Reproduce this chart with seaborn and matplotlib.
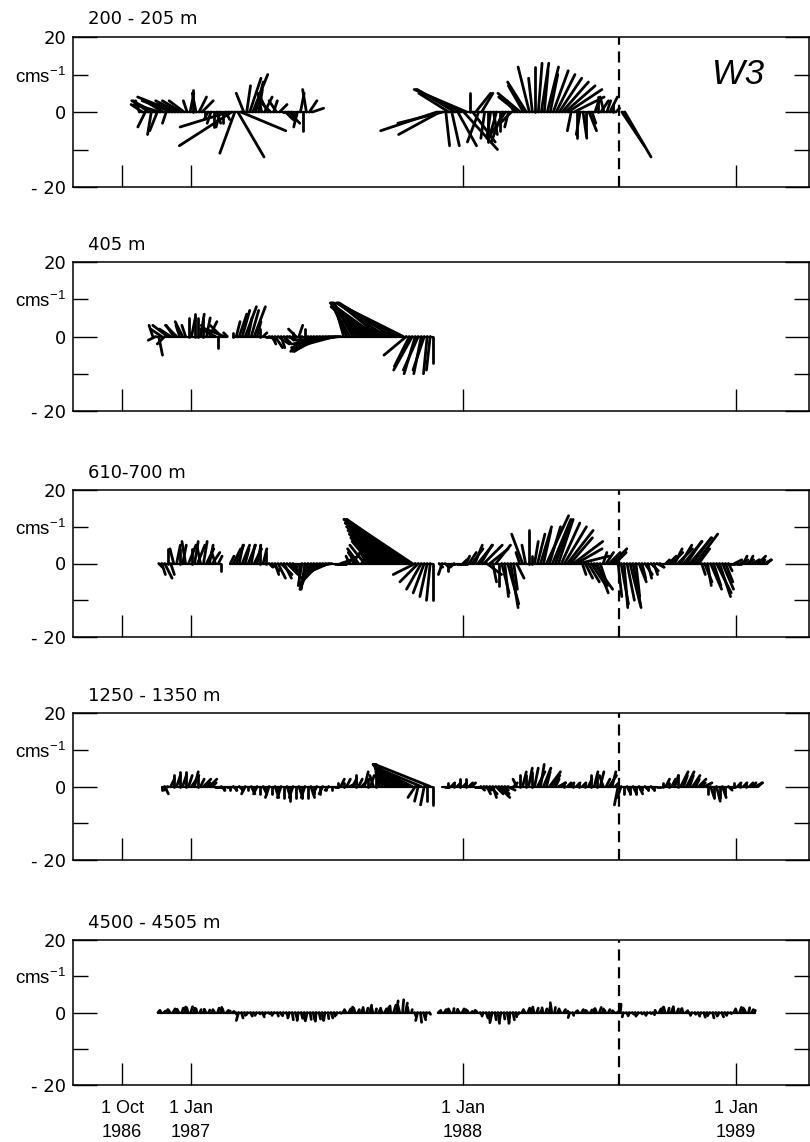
# -*- coding: utf-8 -*-
"""
Current vector (stick) plots, mooring W3, five depths.
"""

import numpy as np
import pandas as pd
import matplotlib
matplotlib.use("Agg")
import matplotlib.pyplot as plt
import matplotlib.dates as mdates
import seaborn as sns

sns.set_theme(style="ticks")
plt.rcParams['font.family'] = ['DejaVu Sans']
plt.rcParams['text.color'] = 'black'
plt.rcParams['xtick.color'] = 'black'
plt.rcParams['ytick.color'] = 'black'
plt.rcParams['mathtext.fontset'] = 'custom'
plt.rcParams['mathtext.rm'] = 'Liberation Sans'
plt.rcParams['mathtext.it'] = 'Liberation Sans:italic'

nan = np.nan

#----------------------------------
# Data: u (east) and v (north) in cm/s, one vector every STEP days
#----------------------------------
STEP = 4

# 200 - 205 m, first record
p1a_start = "1986-10-24"
p1a_u = [-1, -3, -2, -4, -1, -6, -2, -7, -5, -1,
         -3, -8, -10, -6, -5, -4, -1, 1, 0, -1,
         2, 3, 0, -1, -1, 0, 1, -1, 0, 1,
         -13, -14, -4, 7, 12, -2, 1, 3, 4, 2,
         1, -1, 2, -2, -3, 1, -2, 2, 1, 2,
         3, 1, 0, -1, 1, 0, -1, 2, 3]
p1a_v = [3, 2, -4, 3, -6, 3, -5, 2, 3, -3,
         2, 3, 4, 3, 3, 3, 3, 5, 6, 5,
         4, 3, -1, -2, -3, -4, -3, -4, -3, -2,
         -4, -9, -11, -12, -5, 5, 7, 9, 10, 8,
         6, 5, 4, 4, 3, 3, 3, 2, 0, -2,
         -3, -1, -2, -4, 5, -5, 6, 3, 1]

# 200 - 205 m, second record
p1b_start = "1987-11-27"
p1b_u = [-15, -11, -12, 1, -8, 2, -10, 5, -12, 9,
         -14, 0, 6, 4, -3, 3, -1, 0, -1, 1,
         -2, 0, -3, -4, -1, -3, -2, -5, -6, -4,
         -5, -3, -1, 0, 1, 2, 1, 3, 2, 4,
         5, 6, 7, 8, 9, -1, 8, 0, -1, 1,
         0, 2, 1, 1, 0, 2, -1, 1, 2, 0,
         1, nan, 6, 7]
p1b_v = [-5, -6, -3, -9, 5, -9, 6, -9, 6, -10,
         6, 5, -8, 5, -8, 5, -7, -8, -7, -6,
         -7, -5, -8, -6, -4, -3, 3, 4, 5, 7,
         8, 12, 9, 12, 13, 13, 11, 12, 10, 11,
         10, 9, 8, 7, 6, -5, 4, -7, -6, -7,
         -6, -5, -3, 3, 4, 3, 4, 3, 4, 2,
         1, nan, -9, -12]

# 405 m
p2_start = "1986-11-11"
p2_u = [-1, -2, 1, -3, -2, -4, -3, -2, -3, -1,
        -2, -1, 0, 1, 0, 0, 1, 0, 1, 2,
        -3, -4, 0, -3, -5, -1, nan, 0, 1, 2,
        2, 3, 1, 2, 3, 1, 0, 1, 1, 2,
        1, 2, 3, 1, 2, 3, 1, 0, -2, 1,
        -3, 0, -2, -4, -5, -6, -7, -8, -9, -10,
        -10, -11, -12, -12, -2, -4, -5, -5, -6, -7,
        -8, -9, -10, -10, -11, -11, -11, -12, -13, -12,
        -14, -13, -16, -14, -18, -6, -4, -5, -3, -4,
        -2, -3, -1, -1, 0]
p2_v = [3, -1, -5, 2, -2, 3, 2, 3, 3, 3,
        4, 3, 5, 5, 6, 5, 6, 5, 5, 4,
        3, 2, -3, 3, 2, 1, nan, 1, 4, 6,
        7, 8, 5, 7, 8, 4, 2, 1, 0, -1,
        -2, -3, -2, -3, -2, -1, -1, 1, 2, 3,
        -4, 2, -3, -3, -3, -4, -3, -4, -3, -3,
        -2, -3, -2, -1, 7, 9, 9, 9, 9, 9,
        9, 8, 9, 8, 8, 8, 9, 6, 9, 4,
        9, 3, 9, 3, 9, -5, -8, -9, -10, -9,
        -10, -9, -10, -9, -7]

# 610 - 700 m
p3_start = "1986-11-19"
p3_u = [1, 1, 2, 0, 1, -1, 1, 0, 1, -1,
        2, 0, 1, 2, -1, 1, 2, 1, 2, -1,
        1, 0, nan, nan, 1, 2, 2, 1, 2, 1,
        2, 1, 2, 1, 0, 1, 0, 1, 2, 1,
        2, 3, 2, 3, 2, 1, 0, 0, -1, -1,
        -2, -3, -4, -4, -5, -6, -6, -7, -5, 3,
        2, 3, 2, 3, -1, 2, -2, -3, 1, -4,
        -2, -5, -6, -7, -8, -9, -10, -11, -12, -13,
        -14, -15, -16, -17, -17, -18, -6, -5, -4, -3,
        -2, -1, 0, nan, 1, -1, 1, 0, 1, -1,
        1, 2, 1, 1, 2, 3, 2, 4, 3, 5,
        4, 5, 1, 4, 0, 2, 1, 3, 2, 1,
        2, -1, -3, -1, 0, 0, 1, 2, 3, 2,
        6, 3, 5, 4, 4, 5, 6, 7, 6, 8,
        7, 8, 1, 2, 3, 4, 5, 3, 2, 1,
        2, 3, 4, 3, 1, 2, 1, 2, 3, 2,
        1, 2, 1, 2, 1, 2, 1, 2, 1, 0,
        1, 2, 3, 2, 4, 3, 5, 4, 6, 5,
        6, 3, 1, 2, 1, 3, 2, 4, 3, 3,
        2, 1, 1, 2, 1, 2, 1, 2, 1, 2,
        1, 2, 1, 2, 1]
p3_v = [-1, -3, -4, 4, -3, 4, 5, 4, 5, 6,
        5, 4, 6, 5, 5, 6, 4, 5, 3, 3,
        2, -2, nan, nan, 2, 4, 5, 5, 5, 4,
        5, 5, 4, 5, 5, 4, 3, -1, -2, -3,
        -4, -3, -4, -3, -2, -1, -2, -4, -6, -7,
        -7, -7, -6, -5, -5, -4, -3, -3, -1, 0,
        0, 1, 1, 2, 2, 3, 3, 4, 2, 5,
        3, 6, 7, 7, 8, 8, 9, 9, 10, 10,
        11, 11, 12, 12, 12, 12, -3, -5, -7, -8,
        -9, -10, -10, nan, -1, -3, -1, -2, 0, -1,
        0, 0, 1, 2, 3, 4, 5, 5, 5, 5,
        -3, 4, -5, 5, -6, -8, -9, -11, -12, -7,
        -4, 3, 8, 5, 9, 2, 6, 8, 10, 9,
        13, 10, 12, 11, 12, 11, 10, 9, 7, 6,
        4, 2, -3, -4, -5, -6, -7, -8, -6, 3,
        3, 3, 4, 3, -9, -11, -12, -10, -12, -11,
        -9, -5, -4, -3, -4, -2, -3, -1, -1, 0,
        1, 2, 3, 4, 4, 5, 6, 6, 7, 7,
        8, 4, -3, -5, -6, -7, -6, -8, -9, -7,
        -5, -2, 0, 1, 0, 1, 2, 1, 2, 1,
        1, 2, 1, 1, 1]

# 1250 - 1350 m
p4_start = "1986-11-23"
p4_u = [0, 1, -1, 1, 0, 1, 0, 1, 0, 1,
        2, 1, 0, 1, 2, 1, 2, 1, 1, 1,
        1, 0, 1, 0, 1, 0, 1, 0, -1, 0,
        1, 0, -1, 0, 1, 0, -1, 0, 1, 0,
        -1, 0, 1, 0, -1, 0, 1, 0, -1, 0,
        1, 0, -1, 0, -1, 0, -1, 0, 1, 0,
        1, 0, 1, 2, 1, 0, 1, 2, 1, 0,
        1, -1, 0, -1, -2, -3, -4, -5, -5, -6,
        -7, -8, -8, -9, -10, -2, -1, -12, -1, 0,
        -15, 0, nan, nan, 0, 1, 0, 1, 0, 1,
        0, 1, 0, 1, 1, 2, 1, 1, 2, 1,
        2, 1, 2, 3, 2, 1, 2, 0, 1, -1,
        0, 1, 0, 1, 0, 1, 2, 1, 2, 1,
        3, 2, 1, 2, 1, 0, 1, 1, 0, 1,
        0, 1, 0, 1, 0, 1, 0, 1, -1, 1,
        2, 1, 1, -1, -1, 0, 1, 0, 1, 0,
        1, 0, 1, 0, 1, 0, 1, nan, 0, 1,
        0, 1, 1, 0, 2, 1, 2, 1, 2, 1,
        2, 1, 2, 0, 1, 0, 1, 0, 1, 0,
        1, 1, 0, 1, 0, 1, 0, 1, 1, 2,
        1]
p4_v = [-1, -2, -1, 2, 3, 3, 4, 3, 4, 3,
        3, 4, 3, 2, 2, 1, 2, 1, 0, 0,
        -1, -1, 0, -1, -1, -1, -1, -1, -2, -1,
        -2, -1, -2, -2, -2, -2, -3, -2, -3, -2,
        -3, -3, -3, -4, -3, -3, -3, -3, -3, -3,
        -3, -2, -2, -2, -2, -1, -1, -1, 0, 1,
        2, 1, 2, 1, 2, 3, 2, 2, 4, 2,
        3, 3, 3, 4, 5, 6, 6, 6, 6, 6,
        6, 6, 5, 5, 5, -3, -4, 5, -5, -4,
        6, -5, nan, nan, 0, 0, 1, 1, 1, 1,
        2, 1, 2, 1, 1, 0, 0, -1, -1, -2,
        -2, -3, -2, -3, -2, -1, -1, 0, 1, 2,
        3, 4, 3, 5, 4, 5, 4, 6, 5, 4,
        4, 3, 2, 1, 1, 1, 1, 1, 1, 1,
        1, 1, 1, 2, 3, 4, 3, 4, 3, 2,
        3, 4, 1, -5, -3, -2, -2, -2, -2, -2,
        -2, -1, -1, -1, -1, -1, 0, nan, 1, 2,
        1, 2, 3, 3, 4, 3, 4, 3, 3, 2,
        2, 1, 1, -2, -3, -3, -4, -3, -3, -2,
        -1, 0, 1, 1, 1, 1, 1, 1, 1, 1,
        1]

# 4500 - 4505 m
p5_start = "1986-11-18"
p5_u = [0.5, -0.3, 0.4, 0.2, -0.4, 0.6, 0.3, -0.5, 0.4, 0.2,
        -0.3, 0.5, 0.3, -0.2, 0.4, 0.6, -0.4, 0.3, 0.2, -0.5,
        0.4, 0.3, -0.3, 0.5, 0.2, 0.4,
        0.3, -0.6, 0.4, 0.2, -0.3, 0.5, 0.3, -0.4, 0.2, 0.5,
        -0.3, 0.4, 0.2, -0.5, 0.3, 0.4, -0.2, 0.5,
        -0.4, 0.3, 0.6, -0.3, 0.4, 0.2, -0.5, 0.3, 0.5, -0.2,
        0.4, 0.3, -0.4, 0.2, 0.5, 0.3, -0.2, 0.4,
        0.3, -0.4, 0.5, 0.2, -0.3, 0.4, 0.6, -0.2, 0.3, 0.5,
        -0.4, 0.2, 0.4, -0.3, 0.5, 0.3, -0.2, 0.6, 0.4, -0.5,
        0.3, 0.5, -0.3, 0.2,
        0.4, -0.5, 0.3, 0.6, -0.2, 0.3, nan, nan,
        0.3, -0.2, 0.5, 0.3, -0.4, 0.2, 0.4, -0.3, 0.5, 0.2,
        -0.2, 0.4, 0.3, -0.3,
        0.4, -0.3, 0.5, 0.2, -0.6, 0.3, 0.4, -0.5, 0.2, 0.6,
        -0.3, 0.4, 0.2, -0.2,
        0.3, -0.4, 0.5, 0.2, -0.3, 0.4, 0.6, -0.2, 0.3, 0.5,
        -0.4, 0.2, 0.4, -0.3, 0.5, 0.3,
        -0.4, 0.3,
        0.2, -0.3, 0.5, 0.3, -0.2, 0.4, 0.2, -0.4, 0.5, 0.3,
        -0.2, 0.4, 0.3, -0.3, 0.2,
        0.2, -0.3,
        0.4, -0.3, 0.5, 0.2, -0.4, 0.3, 0.5, -0.2, 0.3, 0.4,
        -0.3, 0.5, 0.2, -0.4, 0.3, 0.6, -0.2, 0.4, 0.3, -0.3, 0.5,
        0.3, -0.4, 0.2, 0.5, -0.3, 0.4, 0.2, -0.5, 0.3, 0.4,
        -0.2, 0.5, 0.3, -0.3, 0.2,
        0.4, -0.3, 0.5, 0.2, -0.4, 0.3, 0.5, 0.2]
p5_v = [0.5, 0.6, 0.4, 0.8, 0.7, 1.0, 0.6, 0.9, 1.2, 1.5,
        1.3, 1.6, 1.2, 1.0, 0.8, 0.6, 0.9, 0.7, 0.5, 0.8,
        1.2, 1.4, 1.0, 0.6, 0.4, 0.3,
        -0.5, -2.2, -1.5, -0.8, -0.6, -1.0, -0.5, -0.8, -0.4, -1.2,
        -0.6, -0.3, -0.8, -0.5, -1.0, -0.6, -0.9, -1.2,
        -1.5, -2.0, -1.8, -2.2, -1.6, -2.0, -2.3, -1.9, -2.1, -2.4,
        -1.8, -2.0, -2.2, -1.7, -1.5, -1.0, -0.6, -0.2,
        0.5, 0.8, 1.0, 1.5, 1.2, 0.8, 1.0, 1.4, 1.2, 2.0,
        1.6, 1.0, 0.8, 1.2, 1.0, 1.4, 1.8, 2.0, 3.2, 2.0,
        3.5, 2.6, 1.5, 0.8,
        -1.0, -2.2, -2.7, -2.0, -1.2, -0.5, nan, nan,
        0.3, 0.6, 0.8, 1.0, 0.7, 1.1, 0.9, 0.6, 1.0, 0.8,
        0.5, 0.3, 0.6, 0.4,
        -0.6, -1.0, -1.5, -2.2, -2.8, -2.0, -3.0, -2.5, -1.8, -2.7,
        -3.0, -2.0, -1.2, -0.5,
        0.5, 0.8, 1.2, 1.0, 1.5, 1.2, 0.8, 1.3, 1.0, 1.8,
        2.7, 1.4, 1.0, 0.6, 0.8, 0.4,
        -1.4, -0.8,
        0.3, 0.5, 0.8, 0.6, 0.4, 0.7, 0.9, 1.1, 1.4, 1.0,
        0.6, 0.8, 0.5, 0.3, 0.2,
        2.3, -1.2,
        -0.6, -0.9, -0.5, -1.0, -0.7, -0.4, -0.8, -0.5, -0.3, -0.6,
        0.6, 1.0, 1.3, 1.5, 1.2, 1.4, 1.6, 1.0, 0.8, 1.1, 0.5,
        -0.4, -0.8, -0.5, -1.0, -0.7, -1.3, -0.9, -0.6, -1.5, -1.0,
        -0.7, -1.2, -0.5, -0.8, -0.3,
        0.6, 1.0, 1.4, 1.2, 0.9, 1.3, 0.8, 0.6]

depth_labels = ["200 - 205 m", "405 m", "610-700 m", "1250 - 1350 m", "4500 - 4505 m"]
panel_segments = [
    [(p1a_start, p1a_u, p1a_v), (p1b_start, p1b_u, p1b_v)],
    [(p2_start, p2_u, p2_v)],
    [(p3_start, p3_u, p3_v)],
    [(p4_start, p4_u, p4_v)],
    [(p5_start, p5_u, p5_v)],
]
has_marker_line = [True, False, True, True, True]
marker_date = "1988-07-28"

xtick_dates = ["1986-10-01", "1987-01-01", "1988-01-01", "1989-01-01"]
xtick_labels = ["1 Oct\n1986", "1 Jan\n1987", "1 Jan\n1988", "1 Jan\n1989"]
x_start, x_end = "1986-07-27", "1989-04-09"

#----------------------------------
# Layout (pixels of an 810 x 1142 figure)
#----------------------------------
FIG_W, FIG_H = 810, 1142
AX_LEFT, AX_RIGHT = 73, 809
panel_rows = [(37, 187), (262, 411), (490, 637), (713, 860), (940, 1085)]
YMAX = 20
STICK_LW = 2.0

fig = plt.figure(figsize=(FIG_W / 100, FIG_H / 100), dpi=100)

x0 = mdates.date2num(pd.Timestamp(x_start))
x1 = mdates.date2num(pd.Timestamp(x_end))
ax_w_px = AX_RIGHT - AX_LEFT

for n, (top, bot) in enumerate(panel_rows):
    ax = fig.add_axes([AX_LEFT / FIG_W, 1 - bot / FIG_H,
                       ax_w_px / FIG_W, (bot - top) / FIG_H])

    # days per cm/s so that sticks keep their true direction on screen
    k = ((bot - top) / (2 * YMAX)) / (ax_w_px / (x1 - x0))

    rows = []
    sid = 0
    for start, u, v in panel_segments[n]:
        assert len(u) == len(v), (depth_labels[n], start, len(u), len(v))
        u = np.asarray(u, dtype=float)
        v = np.asarray(v, dtype=float)
        t = mdates.date2num(pd.Timestamp(start)) + STEP * np.arange(len(u))
        for ti, ui, vi in zip(t, u, v):
            if np.isnan(ui) or np.isnan(vi):
                continue
            rows.append((sid, ti, 0.0))
            rows.append((sid, ti + ui * k, vi))
            sid += 1
        # zero line along the record
        ax.plot(t, np.where(np.isnan(v), np.nan, 0.0), color='black', lw=1.6)

    sticks = pd.DataFrame(rows, columns=['stick', 'x', 'y'])
    sns.lineplot(data=sticks, x='x', y='y', units='stick', estimator=None,
                 sort=False, color='black', linewidth=STICK_LW, ax=ax,
                 legend=False)

    if has_marker_line[n]:
        ax.axvline(mdates.date2num(pd.Timestamp(marker_date)), color='black',
                   lw=1.6, ls=(0, (5, 3)))

    ax.set_xlim(x0, x1)
    ax.set_ylim(-YMAX, YMAX)
    ax.set(xlabel='', ylabel='')

    ax.set_xticks([mdates.date2num(pd.Timestamp(d)) for d in xtick_dates])
    if n == len(panel_rows) - 1:
        ax.set_xticklabels(xtick_labels, fontsize=13, family='Liberation Sans')
        for lab in ax.get_xticklabels():
            lab.set_linespacing(1.55)
    else:
        ax.set_xticklabels([])

    ax.set_yticks([-20, 0, 20])
    ax.set_yticklabels(['- 20', '0', '20'], fontsize=13)
    ax.set_yticks([-10, 10], minor=True)
    ax.set_yticklabels(['', 'cms$^{-1}$'], minor=True, fontsize=13.5,
                       family='Liberation Sans')

    ax.tick_params(axis='both', which='both', direction='in', color='black',
                   width=1.0, right=True, top=False, labelright=False)
    ax.tick_params(axis='x', which='major', length=16, pad=11)
    ax.tick_params(axis='y', which='major', length=17, pad=5)
    ax.tick_params(axis='y', which='minor', length=11, pad=5)

    for sp in ax.spines.values():
        sp.set_visible(True)
        sp.set_color('black')
        sp.set_linewidth(1.1)

    ax.annotate(depth_labels[n], xy=(0, 1), xycoords='axes fraction',
                xytext=(11, 9), textcoords='offset points',
                fontsize=13, ha='left', va='baseline', color='black')

    if n == 0:
        ax.text(0.868, 0.75, 'W3', transform=ax.transAxes, fontsize=25,
                style='italic', ha='left', va='center', color='black',
                family='Liberation Sans')

fig.savefig('out.png', dpi=100)
